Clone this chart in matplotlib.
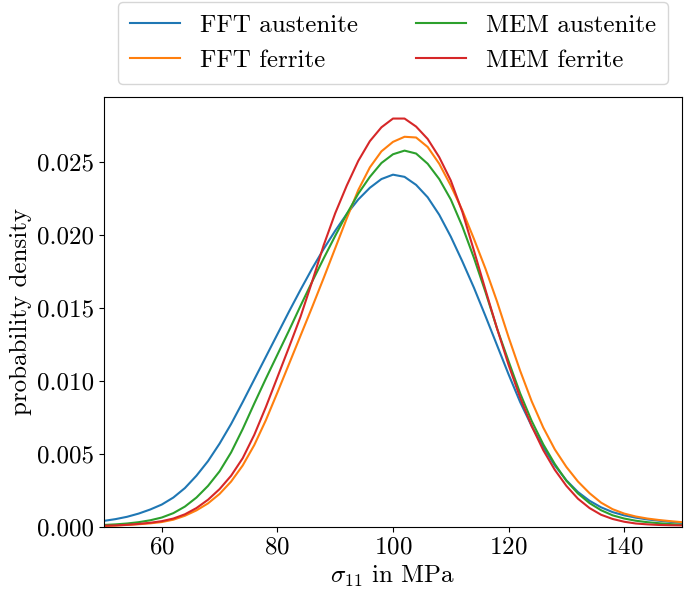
import numpy as np
import matplotlib
matplotlib.use("Agg")
import matplotlib.pyplot as plt

plt.rcParams['font.family'] = 'serif'
plt.rcParams['font.serif'] = ['cmr10']
plt.rcParams['mathtext.fontset'] = 'cm'
plt.rcParams['axes.formatter.use_mathtext'] = True
plt.rcParams['font.size'] = 18

# stress grid in MPa
sigma = np.arange(50, 151, 2)

fft_austenite = [0.00040, 0.00052, 0.00068, 0.00090, 0.00118, 0.00152, 0.00200, 0.00265, 0.00350, 0.00450,
                 0.00570, 0.00705, 0.00855, 0.01010, 0.01165, 0.01320, 0.01475, 0.01625, 0.01770, 0.01905,
                 0.02030, 0.02145, 0.02245, 0.02325, 0.02385, 0.02415, 0.02400, 0.02345, 0.02260, 0.02140,
                 0.01990, 0.01820, 0.01640, 0.01445, 0.01245, 0.01045, 0.00855, 0.00690, 0.00545, 0.00420,
                 0.00318, 0.00238, 0.00178, 0.00133, 0.00100, 0.00078, 0.00062, 0.00050, 0.00041, 0.00033,
                 0.00026]
fft_ferrite = [0.00005, 0.00008, 0.00012, 0.00017, 0.00023, 0.00032, 0.00048, 0.00075, 0.00112, 0.00160,
               0.00225, 0.00310, 0.00420, 0.00560, 0.00730, 0.00920, 0.01115, 0.01310, 0.01505, 0.01705,
               0.01910, 0.02115, 0.02310, 0.02465, 0.02575, 0.02640, 0.02675, 0.02670, 0.02605, 0.02490,
               0.02340, 0.02170, 0.01975, 0.01770, 0.01545, 0.01300, 0.01070, 0.00860, 0.00680, 0.00530,
               0.00410, 0.00310, 0.00230, 0.00165, 0.00120, 0.00090, 0.00070, 0.00056, 0.00046, 0.00038,
               0.00031]
mem_austenite = [0.00012, 0.00016, 0.00022, 0.00031, 0.00044, 0.00063, 0.00093, 0.00138, 0.00200, 0.00280,
                 0.00380, 0.00510, 0.00670, 0.00845, 0.01015, 0.01180, 0.01345, 0.01515, 0.01680, 0.01840,
                 0.01995, 0.02145, 0.02285, 0.02400, 0.02495, 0.02555, 0.02580, 0.02560, 0.02490, 0.02385,
                 0.02245, 0.02060, 0.01845, 0.01610, 0.01360, 0.01135, 0.00915, 0.00725, 0.00565, 0.00430,
                 0.00315, 0.00228, 0.00162, 0.00113, 0.00078, 0.00056, 0.00041, 0.00031, 0.00024, 0.00018,
                 0.00013]
mem_ferrite = [0.00007, 0.00009, 0.00013, 0.00019, 0.00027, 0.00038, 0.00056, 0.00085, 0.00128, 0.00185,
               0.00258, 0.00350, 0.00470, 0.00630, 0.00820, 0.01025, 0.01230, 0.01440, 0.01680, 0.01930,
               0.02150, 0.02340, 0.02510, 0.02645, 0.02740, 0.02800, 0.02800, 0.02745, 0.02660, 0.02535,
               0.02375, 0.02160, 0.01895, 0.01625, 0.01360, 0.01110, 0.00885, 0.00690, 0.00525, 0.00390,
               0.00280, 0.00192, 0.00128, 0.00082, 0.00053, 0.00034, 0.00022, 0.00016, 0.00012, 0.00010,
               0.00009]

fig = plt.figure(figsize=(6.85, 5.91), dpi=100)
ax = fig.add_axes([0.1518, 0.1088, 0.8438, 0.7276])

ax.plot(sigma, fft_austenite, label='FFT austenite')
ax.plot(sigma, fft_ferrite, label='FFT ferrite')
ax.plot(sigma, mem_austenite, label='MEM austenite')
ax.plot(sigma, mem_ferrite, label='MEM ferrite')

ax.set_xlim(50, 150)
ax.set_ylim(0, 0.0295)
ax.set_xticks([60, 80, 100, 120, 140])
ax.set_yticks([0.0, 0.005, 0.010, 0.015, 0.020, 0.025])
ax.set_yticklabels(['0.000', '0.005', '0.010', '0.015', '0.020', '0.025'])
ax.set_xlabel(r'$\sigma_{11}$ in MPa')
ax.set_ylabel('probability density')

ax.legend(loc='lower center', bbox_to_anchor=(0.5, 1.0), ncol=2, columnspacing=2.3,
          borderpad=0.5, borderaxespad=0.5)

fig.savefig('out.png', dpi=100)
